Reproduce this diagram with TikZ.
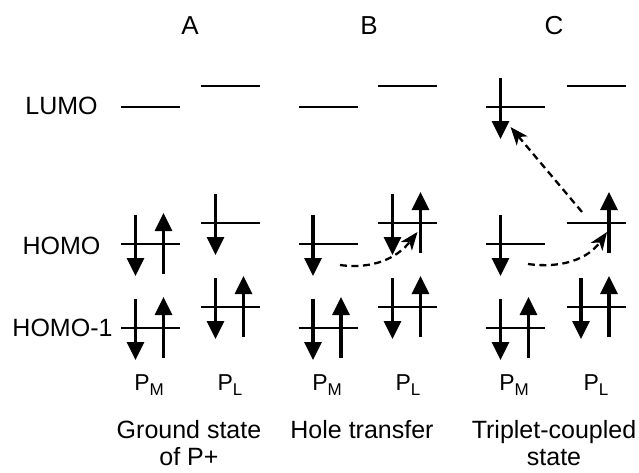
\documentclass[tikz,border=0pt]{standalone}
\usepackage{fontspec}
\setmainfont{Liberation Sans}
\usetikzlibrary{calc, arrows.meta}
\tikzset{
    level/.style={line width=2.6pt},
    spin/.style={line width=3.1pt, -{Triangle[width=17pt,length=18pt]}},
    transfer/.style={line width=2.3pt, dash pattern=on 7pt off 4.5pt,
        -{Stealth[width=14pt,length=18pt,inset=5pt]}},
    paneltitle/.style={inner sep=0pt, font=\fontsize{26}{30}\selectfont},
    rowname/.style={inner sep=0pt, font=\fontsize{25}{28}\selectfont},
    caption/.style={inner sep=0pt, anchor=north, align=center, font=\fontsize{25}{27}\selectfont},
}
\newcommand{\sitelabel}[1]{P\raisebox{-5pt}{\fontsize{17}{17}\selectfont #1}}

\begin{document}
\begin{tikzpicture}[x=1pt, y=1pt]
  \useasboundingbox (0,0) rectangle (639,-472);

  % Parameter
  \def\hw{29.5}   % halbe Breite eines Niveaus

  % Titel
  \node[paneltitle] (tA) at (190,-26) {A};
  \node[paneltitle] (tB) at (369,-26) {B};
  \node[paneltitle] (tC) at (554,-26) {C};

  % Zeilen
  \node[rowname] (nlumo)  at (61.5,-106) {LUMO};
  \node[rowname] (nhomo)  at (61.5,-246) {HOMO};
  \node[rowname] (nhomoi) at (62.5,-328) {HOMO-1};

  % Niveaus
  \foreach \col/\xm/\xl in {A/150.5/230.5, B/328/407.5, C/515.5/596}{
    \foreach \orb/\y in {lumo/107, homo/244, homoi/328}{
      \coordinate (\col M\orb) at (\xm,-\y);
      \coordinate (\col L\orb) at (\xl,-\y+21);
      \draw[level] ($(\col M\orb)+(-\hw,0)$) -- ($(\col M\orb)+(\hw,0)$);
      \draw[level] ($(\col L\orb)+(-\hw,0)$) -- ($(\col L\orb)+(\hw,0)$);
    }
  }

  % Spins
  \foreach \o in {AMhomo,AMhomoi,ALhomo,ALhomoi,BMhomo,BLhomo,BMhomoi,BLhomoi,CMlumo,CMhomo,CMhomoi,CLhomoi}
    \draw[spin] ($(\o)+(-15,29)$) -- ($(\o)+(-15,-32)$);
  \foreach \o in {AMhomo,AMhomoi,ALhomoi,BLhomo,BMhomoi,BLhomoi,CLhomo,CMhomoi,CLhomoi}
    \draw[spin] ($(\o)+(13,-30)$) -- ($(\o)+(13,31)$);

  % Uebergaenge
  \coordinate (hB1) at ($(BMhomo)+(12,-21)$);
  \coordinate (hB2) at ($(BLhomo)+(10,-9)$);
  \coordinate (hC1) at ($(CMhomo)+(12.5,-20)$);
  \coordinate (hC2) at ($(CLhomo)+(11,-9)$);
  \coordinate (eC1) at ($(CLhomo)+(-14,11)$);
  \coordinate (eC2) at ($(CMlumo)+(-5,-20)$);
  \draw[transfer] (hB1) to[out=-8, in=232] (hB2);
  \draw[transfer] (hC1) to[out=-8, in=235] (hC2);
  \draw[transfer] (eC1) -- (eC2);

  % Beschriftung
  \foreach \col/\xm/\xl in {A/149/230, B/327/408, C/514/596}{
    \node[anchor=base, inner sep=0pt, font=\fontsize{23}{26}\selectfont] (\col pm) at (\xm,-390) {\sitelabel{M}};
    \node[anchor=base, inner sep=0pt, font=\fontsize{23}{26}\selectfont] (\col pl) at (\xl,-390) {\sitelabel{L}};
  }
  \node[caption] (cA) at (189,-420) {Ground state\\of P+};
  \node[caption] (cB) at (362,-420) {Hole transfer};
  \node[caption] (cC) at (554,-420) {Triplet-coupled\\state};

\end{tikzpicture}
\end{document}
